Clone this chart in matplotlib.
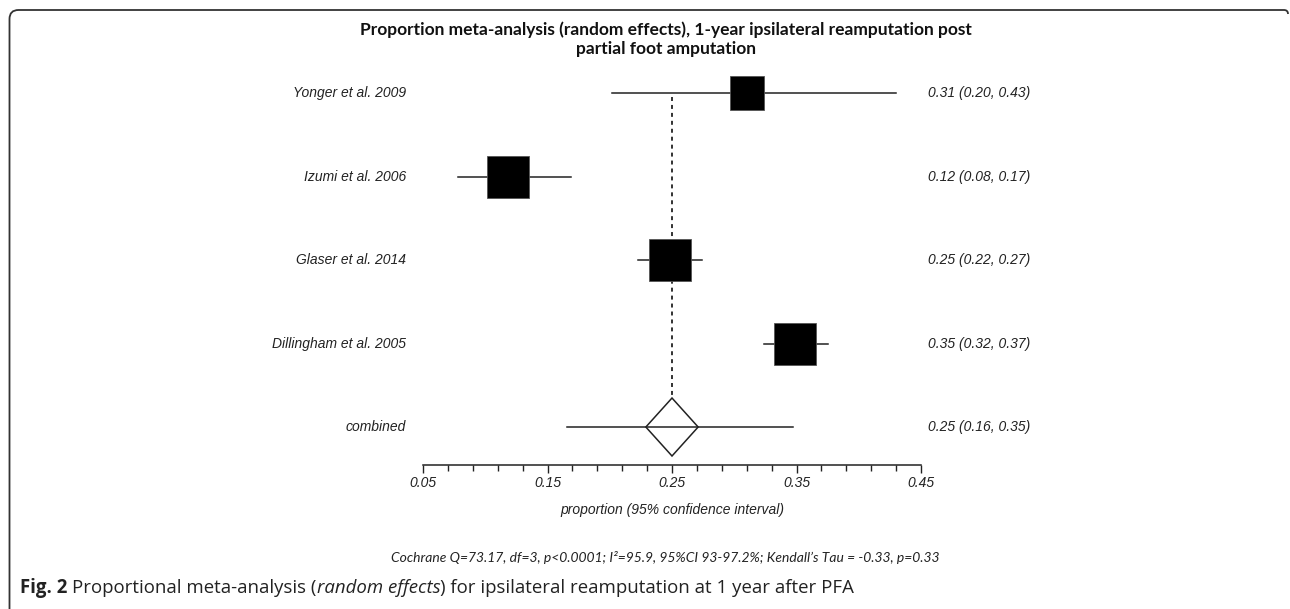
import numpy as np
import matplotlib
matplotlib.use("Agg")
import matplotlib.pyplot as plt
from matplotlib.patches import Polygon, PathPatch
from matplotlib.path import Path
from matplotlib.ticker import FixedLocator

# dados
estudos = ["Yonger et al. 2009", "Izumi et al. 2006", "Glaser et al. 2014", "Dillingham et al. 2005"]
proporcao = [0.31, 0.118, 0.248, 0.349]
ic_inf = [0.202, 0.078, 0.223, 0.324]
ic_sup = [0.43, 0.169, 0.274, 0.375]
pesos = [17.9, 26.1, 27.3, 28.7]
rotulos_dir = ["0.31 (0.20, 0.43)", "0.12 (0.08, 0.17)", "0.25 (0.22, 0.27)", "0.35 (0.32, 0.37)"]

comb_est = 0.25
comb_ic = (0.166, 0.347)
comb_losango = (0.229, 0.271)
comb_rotulo = "0.25 (0.16, 0.35)"

xticks_maiores = [0.05, 0.15, 0.25, 0.35, 0.45]

titulo = "Proportion meta-analysis (random effects), 1-year ipsilateral reamputation post\npartial foot amputation"
rodape = "Cochrane Q=73.17, df=3, p<0.0001; I²=95.9, 95%CI 93-97.2%; Kendall\u2019s Tau = -0.33, p=0.33"

W, H = 1290, 609
fig = plt.figure(figsize=(W / 100, H / 100), dpi=100)


def fx(x):
    return x / W


def fy(y):
    return 1 - y / H


# eixo principal: 0.05 -> x=423px, 0.45 -> x=921px, linha do eixo em y=465px
ax = fig.add_axes([fx(423), fy(465), (921 - 423) / W, (465 - 43) / H])
ax.set_xlim(0.05, 0.45)
n = len(estudos)
ax.set_ylim(4.455, -0.6)

fonte_rot = dict(family="Liberation Sans", style="italic", size=10, color="#222222")

for i in range(n):
    ax.plot([ic_inf[i], ic_sup[i]], [i, i], color="#222222", lw=1.1, zorder=2)
    lado = 43 * np.sqrt(pesos[i] / max(pesos))
    ax.plot(proporcao[i], i, marker="s", ms=lado * 0.72, mfc="black", mec="#555555",
            mew=0.6, zorder=3)
    ax.text(0.0365, i, estudos[i], ha="right", va="center", clip_on=False, **fonte_rot)
    ax.text(0.456, i, rotulos_dir[i], ha="left", va="center", clip_on=False, **fonte_rot)

# combinado
yc = n
h = 29 / 83.5
ax.plot(list(comb_ic), [yc, yc], color="#222222", lw=1.1, zorder=2)
ax.add_patch(Polygon([[comb_losango[0], yc], [comb_est, yc - h], [comb_losango[1], yc],
                      [comb_est, yc + h]], closed=True, fill=False, ec="#222222", lw=1.1, zorder=3))
ax.text(0.0365, yc, "combined", ha="right", va="center", clip_on=False, **fonte_rot)
ax.text(0.456, yc, comb_rotulo, ha="left", va="center", clip_on=False, **fonte_rot)

# linha tracejada vertical
ax.plot([comb_est, comb_est], [0.05, yc - h], color="#222222", lw=1.3,
        linestyle=(0, (2.2, 2.2)), zorder=1)

for lado in ["left", "top", "right"]:
    ax.spines[lado].set_visible(False)
ax.spines["bottom"].set_linewidth(1.1)
ax.spines["bottom"].set_color("#222222")
ax.set_yticks([])
ax.xaxis.set_major_locator(FixedLocator(xticks_maiores))
ax.xaxis.set_minor_locator(FixedLocator(np.arange(0.07, 0.44, 0.02)))
ax.tick_params(axis="x", which="major", length=6, width=1, color="#222222", pad=2)
ax.tick_params(axis="x", which="minor", length=4, width=1, color="#222222")
ax.set_xticklabels([f"{t:.2f}" for t in xticks_maiores], **fonte_rot)
ax.patch.set_visible(False)

fig.text(fx(672), fy(510), "proportion (95% confidence interval)", ha="center", va="center", **fonte_rot)

# titulo
fig.text(fx(666), fy(39), titulo, ha="center", va="center", family="Lato", weight="bold",
         size=12.5, color="#111111", linespacing=1.2)

# rodape
fig.text(fx(665), fy(558), rodape, ha="center", va="center", family="Lato", style="italic",
         size=10, color="#222222")

# legenda da figura (partes com estilos diferentes)
partes = [("Fig. 2 ", "bold", "normal"), ("Proportional meta-analysis (", "normal", "normal"),
          ("random effects", "normal", "italic"),
          (") for ipsilateral reamputation at 1 year after PFA", "normal", "normal")]
fig.canvas.draw()
rend = fig.canvas.get_renderer()
x0 = 20
for txt, peso, estilo in partes:
    t = fig.text(fx(x0), fy(588), txt, ha="left", va="center", family="Open Sans",
                 weight=peso, style=estilo, size=13.4, color="#222222")
    bb = t.get_window_extent(renderer=rend)
    x0 += bb.width

# moldura (canto arredondado superior esquerdo)
r = 9
verts = [(9.5, H + 2), (9.5, 10 + r), (9.5, 10), (9.5 + r, 10), (1284, 10), (1288, 10), (1288, 14)]
codes = [Path.MOVETO, Path.LINETO, Path.CURVE3, Path.CURVE3, Path.LINETO, Path.CURVE3, Path.CURVE3]
verts_fig = [(fx(x), fy(y)) for x, y in verts]
fig.add_artist(PathPatch(Path(verts_fig, codes), transform=fig.transFigure, fill=False,
                         ec="#333333", lw=1.3))

fig.savefig("out.png", dpi=100)
